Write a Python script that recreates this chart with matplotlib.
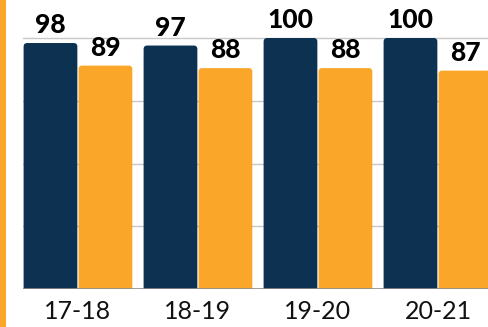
import matplotlib
matplotlib.use("Agg")
import matplotlib.pyplot as plt
from matplotlib.patches import FancyBboxPatch, Rectangle

seasons = ["17-18", "18-19", "19-20", "20-21"]
navy_values = [98, 97, 100, 100]
orange_values = [89, 88, 88, 87]

NAVY = "#0d3251"
ORANGE = "#faa629"

W, H = 488, 327
fig = plt.figure(figsize=(W / 100, H / 100), dpi=100)
base_px, left_px = 289, 23
ax = fig.add_axes([left_px / W, (H - base_px) / H, 1 - left_px / W, base_px / H])

px_per_unit_y = (289 - 38) / 100.0
ymax = base_px / px_per_unit_y
bar_w = 0.458
x0 = -bar_w
px_per_unit_x = 120.0
ax.set_xlim(x0, x0 + (W - left_px) / px_per_unit_x)
ax.set_ylim(0, ymax)

for y in [25, 50, 75, 100]:
    ax.axhline(y, color="#c8c8c8", lw=1.0, zorder=0)

xs = list(range(len(seasons)))
aspect = px_per_unit_x / px_per_unit_y
r = 0.03
for i, x in enumerate(xs):
    for val, col, xc in [(navy_values[i], NAVY, x - bar_w / 2),
                         (orange_values[i], ORANGE, x + bar_w / 2)]:
        w = bar_w - 1.2 / px_per_unit_x
        p = FancyBboxPatch((xc - w / 2, -3), w, val + 3,
                           boxstyle=f"round,pad=0,rounding_size={r}",
                           mutation_aspect=aspect, fc=col, ec="none", zorder=2)
        ax.add_patch(p)
        ax.annotate(f"{val}", (xc, val), xytext=(0, 7), textcoords="offset points",
                    ha="center", va="baseline", fontsize=19, fontweight="black",
                    family="Lato", color="black", clip_on=False, zorder=3)

ax.axhline(0, color="#8c8c8c", lw=1.2, zorder=3)
ax.set_xticks(xs)
ax.set_xticklabels(seasons, family="Lato", fontsize=18, color="#111111")
ax.tick_params(axis="x", length=0, pad=8)
ax.set_yticks([])
for s in ax.spines.values():
    s.set_visible(False)

fig.add_artist(Rectangle((0, 0), 6 / W, 1, transform=fig.transFigure,
                         fc=ORANGE, ec="none"))

fig.savefig("out.png", dpi=100)
